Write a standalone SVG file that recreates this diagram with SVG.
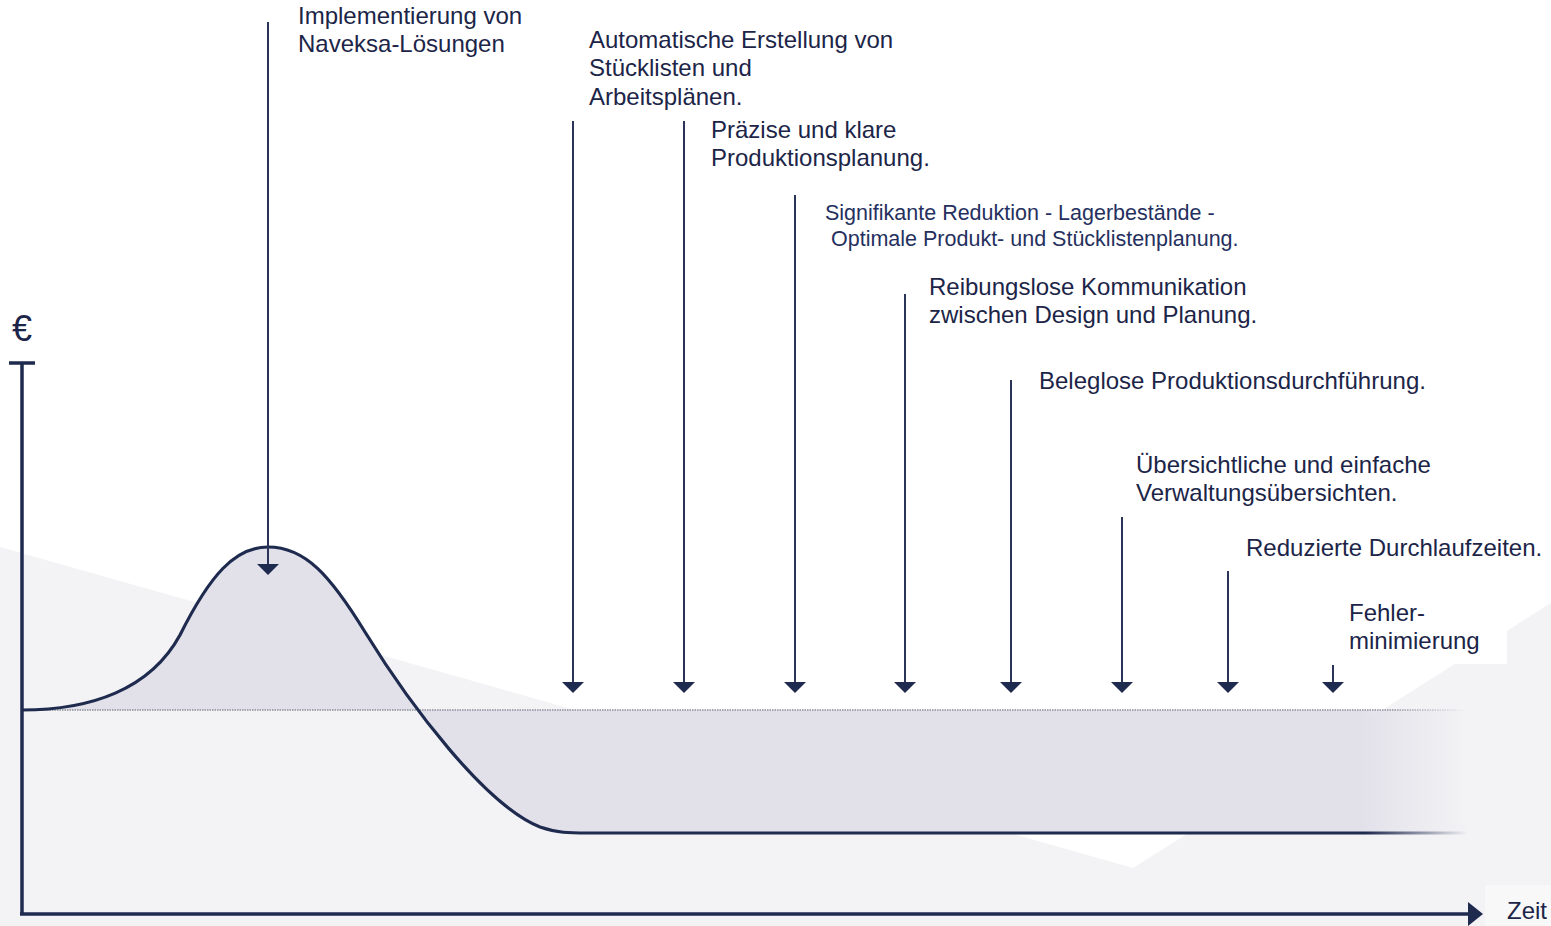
<svg xmlns="http://www.w3.org/2000/svg" width="1551" height="926" viewBox="0 0 1551 926">
  <style>
    .lbl { font-family: "Liberation Sans", Arial, sans-serif; font-size: 24px; fill: #1c2548; }
    .sm { font-size: 21.5px; fill: #25305e; }
    .arr { stroke: #2a3458; stroke-width: 2; fill: none; marker-end: url(#head); }
    .axis { stroke: #1e2a4e; stroke-width: 3.5; fill: none; }
  </style>
  <defs>
    <marker id="head" markerUnits="userSpaceOnUse" markerWidth="24" markerHeight="14" refX="11" refY="2" orient="0" overflow="visible">
      <path d="M0,0 L22,0 L11,11 Z" fill="#1e2a4e"/>
    </marker>
    <linearGradient id="fadeFill" gradientUnits="userSpaceOnUse" x1="1360" y1="0" x2="1468" y2="0">
      <stop offset="0" stop-color="#e2e1ea" stop-opacity="1"/>
      <stop offset="1" stop-color="#e2e1ea" stop-opacity="0"/>
    </linearGradient>
    <linearGradient id="fadeStroke" gradientUnits="userSpaceOnUse" x1="1365" y1="0" x2="1468" y2="0">
      <stop offset="0" stop-color="#1e2a4e" stop-opacity="1"/>
      <stop offset="1" stop-color="#1e2a4e" stop-opacity="0"/>
    </linearGradient>
    <linearGradient id="fadeDot" gradientUnits="userSpaceOnUse" x1="1390" y1="0" x2="1468" y2="0">
      <stop offset="0" stop-color="#8a8d99" stop-opacity="1"/>
      <stop offset="1" stop-color="#8a8d99" stop-opacity="0"/>
    </linearGradient>
  </defs>

  <rect x="0" y="0" width="1551" height="926" fill="#ffffff"/>

  <g id="background">
    <polygon points="0,547 1133,868 1551,603 1551,926 0,926" fill="#f3f3f5"/>
    <rect x="1340" y="596" width="167" height="68" fill="#ffffff"/>
    <rect x="1485" y="885" width="66" height="41" fill="#f8f8f9"/>
  </g>

  <g id="curve">
    <path d="M22,710 C90,710 150,690 180,635 C210,575 235,547 268,547 C305,547 330,575 365,632 C410,705 485,805 540,827 C558,833 568,833 588,833 L1468,833 L1468,710 Z" fill="url(#fadeFill)" stroke="none"/>
    <line x1="22" y1="710" x2="1468" y2="710" stroke="url(#fadeDot)" stroke-width="1.5" stroke-dasharray="1.5,1"/>
    <path d="M22,710 C90,710 150,690 180,635 C210,575 235,547 268,547 C305,547 330,575 365,632 C410,705 485,805 540,827 C558,833 568,833 588,833 L1468,833" fill="none" stroke="url(#fadeStroke)" stroke-width="3.2"/>
  </g>

  <g id="axes">
    <line class="axis" x1="22" y1="363" x2="22" y2="914"/>
    <line class="axis" x1="9" y1="363" x2="35" y2="363"/>
    <line class="axis" x1="20" y1="914" x2="1470" y2="914"/>
    <path d="M1468,902 L1483,914 L1468,926 Z" fill="#1e2a4e"/>
    <text class="lbl" x="12" y="341" style="font-size:36px">€</text>
    <text class="lbl" x="1507" y="919">Zeit</text>
  </g>

  <g id="connectors">
    <line class="arr" x1="268" y1="22" x2="268" y2="566"/>
    <line class="arr" x1="573" y1="121" x2="573" y2="684"/>
    <line class="arr" x1="684" y1="121" x2="684" y2="684"/>
    <line class="arr" x1="795" y1="195" x2="795" y2="684"/>
    <line class="arr" x1="905" y1="294" x2="905" y2="684"/>
    <line class="arr" x1="1011" y1="380" x2="1011" y2="684"/>
    <line class="arr" x1="1122" y1="517" x2="1122" y2="684"/>
    <line class="arr" x1="1228" y1="571" x2="1228" y2="684"/>
    <line class="arr" x1="1333" y1="665" x2="1333" y2="684"/>
  </g>

  <g id="n1"><text class="lbl" x="298" y="24">Implementierung von</text><text class="lbl" x="298" y="52">Naveksa-Lösungen</text></g>
  <g id="n2"><text class="lbl" x="589" y="48">Automatische Erstellung von</text><text class="lbl" x="589" y="76">Stücklisten und</text><text class="lbl" x="589" y="105">Arbeitsplänen.</text></g>
  <g id="n3"><text class="lbl" x="711" y="138">Präzise und klare</text><text class="lbl" x="711" y="166">Produktionsplanung.</text></g>
  <g id="n4"><text class="lbl sm" x="825" y="220">Signifikante Reduktion - Lagerbestände -</text><text class="lbl sm" x="831" y="246">Optimale Produkt- und Stücklistenplanung.</text></g>
  <g id="n5"><text class="lbl" x="929" y="295">Reibungslose Kommunikation</text><text class="lbl" x="929" y="323">zwischen Design und Planung.</text></g>
  <g id="n6"><text class="lbl" x="1039" y="389">Beleglose Produktionsdurchführung.</text></g>
  <g id="n7"><text class="lbl" x="1136" y="473">Übersichtliche und einfache</text><text class="lbl" x="1136" y="501">Verwaltungsübersichten.</text></g>
  <g id="n8"><text class="lbl" x="1246" y="556">Reduzierte Durchlaufzeiten.</text></g>
  <g id="n9"><text class="lbl" x="1349" y="621">Fehler-</text><text class="lbl" x="1349" y="649">minimierung</text></g>
</svg>
